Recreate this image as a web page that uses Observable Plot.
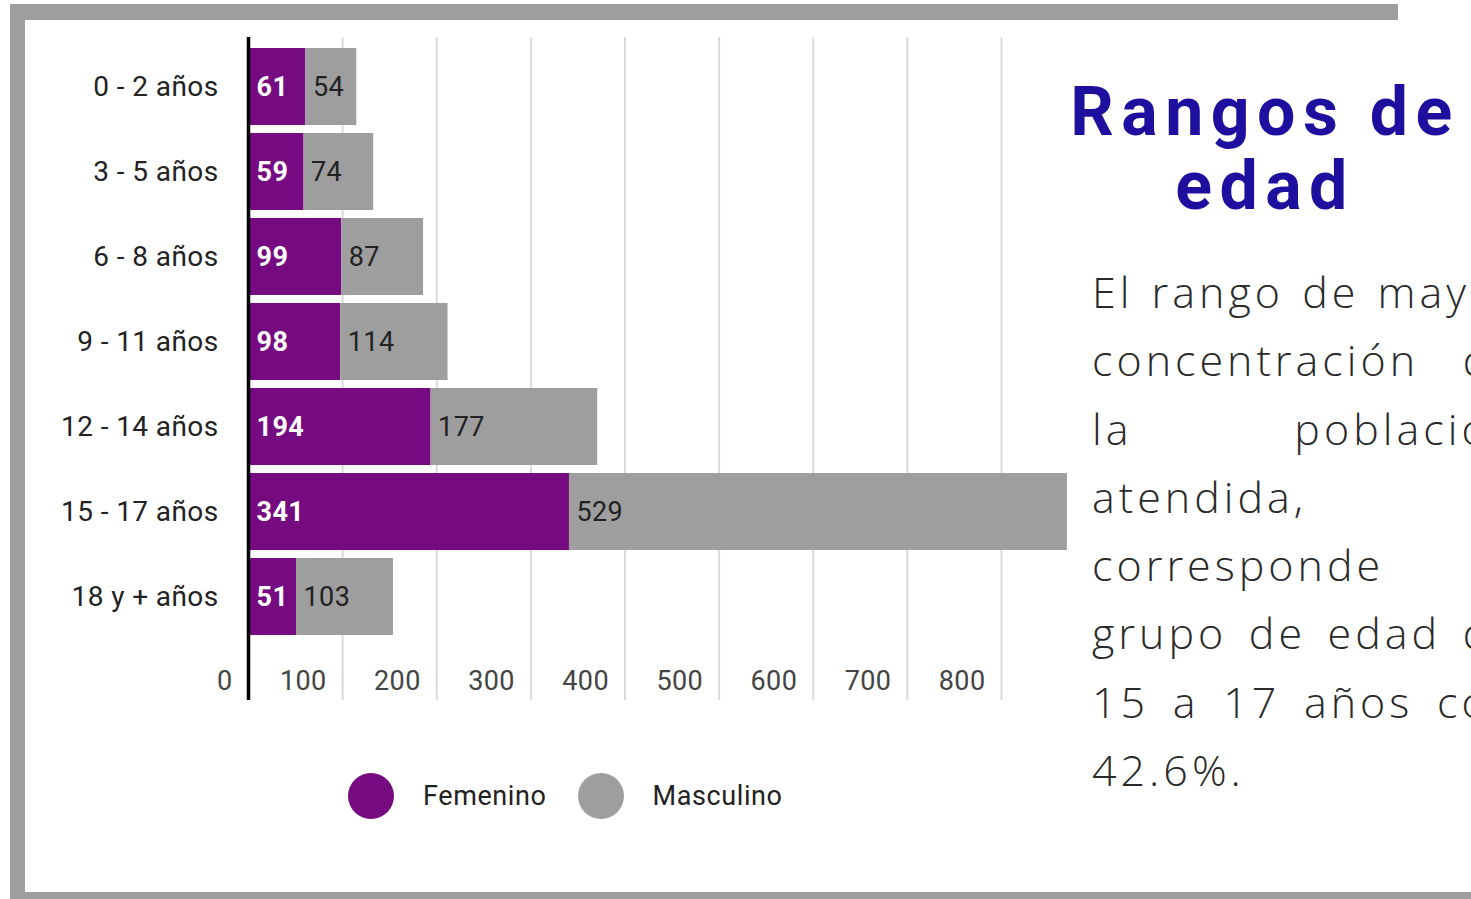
<!DOCTYPE html>
<html>
<head>
<meta charset="utf-8">
<script src="https://cdn.jsdelivr.net/npm/d3@7"></script>
<script src="https://cdn.jsdelivr.net/npm/@observablehq/plot@0.6"></script>
<style>
  html, body { margin: 0; padding: 0; background: #fff; }
  #page { position: relative; width: 1471px; height: 899px; overflow: hidden; background: #fff; }
  .bar { position: absolute; background: #9e9e9e; }
  #chart { position: absolute; left: 0; top: 0; }
  #chart svg text { letter-spacing: 0.4px; }
  #legend { position: absolute; left: 348px; top: 773px; display: flex; align-items: center;
            font-family: Roboto, sans-serif; font-size: 27px; letter-spacing: 0.6px; color: #222; }
  #legend .dot { width: 46px; height: 46px; border-radius: 50%; margin-right: 29px; }
  #legend .lab { margin-right: 31px; }
  #title { position: absolute; left: 1040px; top: 75px; width: 450px; text-align: center;
           font-family: Roboto, sans-serif; font-weight: 700; font-size: 68px; line-height: 74px;
           letter-spacing: 7.5px; color: #1e0f9e; }
  #para { position: absolute; left: 1092px; top: 258px; width: 428px;
          font-family: "Open Sans", sans-serif; font-weight: 300; font-size: 43px; line-height: 68.3px;
          letter-spacing: 4px; color: #2a2a2a; }
  #para div { text-align: justify; text-align-last: justify; white-space: nowrap; }
  #para div.l { text-align-last: left; }
</style>
</head>
<body>
<div id="page">
  <div class="bar" style="left:10px; top:4px; width:1388px; height:16px;"></div>
  <div class="bar" style="left:10px; top:4px; width:15px; height:895px;"></div>
  <div class="bar" style="left:10px; top:892px; width:1461px; height:7px;"></div>
  <div id="chart"></div>
  <div id="legend"></div>
  <div id="title">Rangos de<br>edad</div>
  <div id="para"></div>
</div>
<script>
const categories = ["0 - 2 años", "3 - 5 años", "6 - 8 años", "9 - 11 años", "12 - 14 años", "15 - 17 años", "18 y + años"];
const femenino = [61, 59, 99, 98, 194, 341, 51];
const masculino = [54, 74, 87, 114, 177, 529, 103];
const xTicks = [0, 100, 200, 300, 400, 500, 600, 700, 800];
const seriesNames = ["Femenino", "Masculino"];
const seriesColors = ["#760a80", "#9e9e9e"];
const paragraphLines = ["El rango de mayor", "concentración de", "la población", "atendida,", "corresponde al", "grupo de edad de", "15 a 17 años con", "42.6%."];

const rows = [];
categories.forEach((c, i) => {
  rows.push({cat: c, serie: seriesNames[0], x1: 0, x2: femenino[i], v: femenino[i]});
  rows.push({cat: c, serie: seriesNames[1], x1: femenino[i], x2: femenino[i] + masculino[i], v: masculino[i]});
});
const femRows = rows.filter(d => d.serie === seriesNames[0]);
const mascRows = rows.filter(d => d.serie === seriesNames[1]);

const plot = Plot.plot({
  width: 1080,
  height: 720,
  marginLeft: 248,
  marginRight: 79,
  marginTop: 37,
  marginBottom: 20,
  style: {fontFamily: "Roboto, sans-serif", fontSize: "27px", background: "transparent", overflow: "visible", color: "#222"},
  x: {domain: [0, 800], axis: null},
  y: {domain: categories, range: [46, 637], paddingInner: 0.1, paddingOuter: 0, label: null},
  color: {domain: seriesNames, range: seriesColors},
  marks: [
    Plot.ruleX(xTicks.slice(1), {x: d => d, stroke: "#dadada", strokeWidth: 2}),
    Plot.barX(rows, {y: "cat", x1: "x1", x2: "x2", fill: "serie"}),
    Plot.ruleX([0], {stroke: "#000", strokeWidth: 3.5}),
    Plot.axisY({tickSize: 0, tickPadding: 30, fontSize: 28, fill: "#222", label: null}),
    Plot.text(femRows, {y: "cat", x: "x1", text: d => String(d.v), textAnchor: "start", dx: 8,
      fill: "#fff", fontWeight: "bold", fontSize: 27}),
    Plot.text(mascRows, {y: "cat", x: "x1", text: d => String(d.v), textAnchor: "start", dx: 7,
      fill: "#222", fontSize: 27}),
    Plot.text(xTicks, {x: d => d, text: d => String(d), frameAnchor: "bottom", dy: -11, dx: -16,
      textAnchor: "end", fontSize: 27, fill: "#444"})
  ]
});
document.getElementById("chart").appendChild(plot);

const legend = document.getElementById("legend");
seriesNames.forEach((n, i) => {
  const dot = document.createElement("span");
  dot.className = "dot";
  dot.style.background = seriesColors[i];
  const lab = document.createElement("span");
  lab.className = "lab";
  lab.textContent = n;
  legend.appendChild(dot);
  legend.appendChild(lab);
});

const para = document.getElementById("para");
paragraphLines.forEach((t, i) => {
  const d = document.createElement("div");
  d.textContent = t;
  if (t.indexOf(" ") < 0) d.className = "l";
  para.appendChild(d);
});
</script>
</body>
</html>
